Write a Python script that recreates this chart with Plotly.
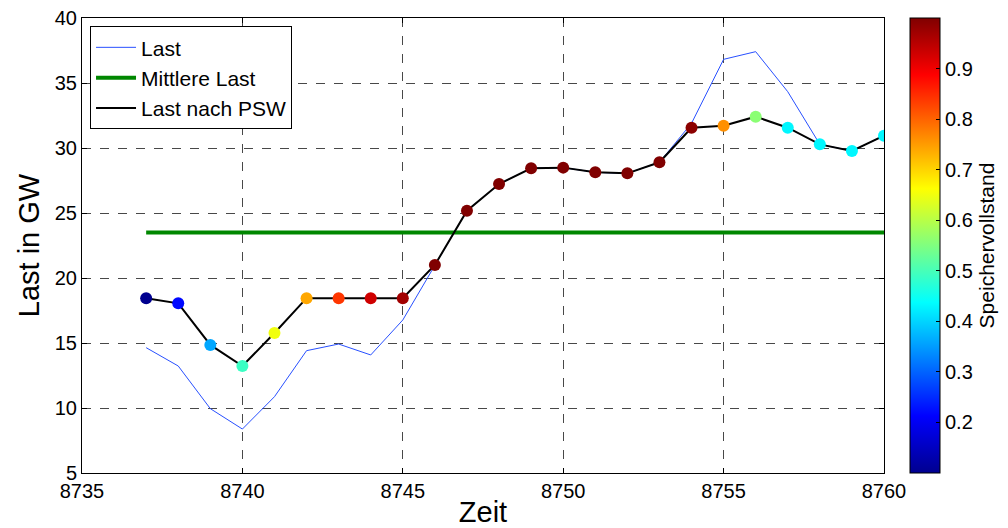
import plotly.graph_objects as go

# Stunden der Woche
zeit = list(range(8737, 8761))

# ursprüngliche Last in GW
last = [14.64, 13.23, 9.95, 8.38, 10.87, 14.41, 14.92, 14.08, 16.77, 21.0,
        25.18, 27.23, 28.44, 28.49, 28.13, 28.05, 28.9, 31.9, 36.82, 37.41,
        34.33, 30.28, 29.77, 30.95]

# Last nach Einsatz des Pumpspeicherwerks in GW
last_psw = [18.44, 18.05, 14.85, 13.23, 15.77, 18.45, 18.45, 18.45, 18.45, 21.0,
            25.18, 27.23, 28.44, 28.49, 28.13, 28.05, 28.9, 31.56, 31.72, 32.41,
            31.56, 30.28, 29.77, 30.95]

# Füllstand des Speichers (0..1)
speicher = [0.10, 0.22, 0.36, 0.49, 0.65, 0.74, 0.84, 0.93, 0.97, 1.0,
            1.0, 1.0, 1.0, 1.0, 1.0, 1.0, 1.0, 0.99, 0.76, 0.56,
            0.43, 0.43, 0.43, 0.43]

# mittlere Last in GW
mittlere_last = [23.5] * len(zeit)

x_ticks = [8735, 8740, 8745, 8750, 8755, 8760]
y_ticks = [5, 10, 15, 20, 25, 30, 35, 40]
cb_ticks = [0.2, 0.3, 0.4, 0.5, 0.6, 0.7, 0.8, 0.9]

jet = [
    [0.0, "rgb(0,0,143)"],
    [0.125, "rgb(0,0,255)"],
    [0.375, "rgb(0,255,255)"],
    [0.625, "rgb(255,255,0)"],
    [0.875, "rgb(255,0,0)"],
    [1.0, "rgb(128,0,0)"],
]

font = "Liberation Sans, Arial, sans-serif"

fig = go.Figure()

fig.add_trace(go.Scatter(
    x=zeit, y=last, mode="lines", name="Last",
    line=dict(color="rgb(40,80,255)", width=1),
))
fig.add_trace(go.Scatter(
    x=zeit, y=mittlere_last, mode="lines", name="Mittlere Last",
    line=dict(color="rgb(0,135,0)", width=4),
))
fig.add_trace(go.Scatter(
    x=zeit, y=last_psw, mode="lines", name="Last nach PSW",
    line=dict(color="black", width=2),
))
fig.add_trace(go.Scatter(
    x=zeit, y=last_psw, mode="markers", showlegend=False,
    marker=dict(
        size=12, color=speicher, colorscale=jet, cmin=0.1, cmax=1.0,
        line=dict(width=0),
        colorbar=dict(
            x=1.0324, xanchor="left", xref="paper",
            y=0.5, yanchor="middle", len=1.0, lenmode="fraction",
            xpad=0, ypad=0,
            thickness=30, outlinewidth=1, outlinecolor="black",
            tickvals=cb_ticks, ticks="inside", ticklen=4, tickcolor="black",
            tickfont=dict(family=font, size=20, color="black"),
            title=dict(text="Speichervollstand", side="right",
                       font=dict(family=font, size=21, color="black")),
        ),
    ),
))

axis_common = dict(
    showline=True, linecolor="black", linewidth=1, mirror="ticks",
    ticks="inside", ticklen=5, tickcolor="black",
    showgrid=True, gridcolor="rgba(40,40,40,0.85)", gridwidth=1, griddash="dash",
    zeroline=False,
    tickfont=dict(family=font, size=20, color="black"),
)

fig.update_xaxes(
    range=[8735, 8760], tickvals=x_ticks,
    title=dict(text="Zeit", font=dict(family=font, size=29, color="black"), standoff=0),
    **axis_common,
)
fig.update_yaxes(
    range=[5, 40], tickvals=y_ticks,
    title=dict(text="Last in GW", font=dict(family=font, size=29, color="black"), standoff=6),
    **axis_common,
)

fig.update_layout(
    width=1008, height=528,
    margin=dict(l=82, r=124, t=18, b=55, autoexpand=False),
    paper_bgcolor="white", plot_bgcolor="white",
    font=dict(family=font, color="black"),
    legend=dict(
        x=0.01, y=0.982, xanchor="left", yanchor="top",
        bgcolor="white", bordercolor="black", borderwidth=1,
        font=dict(family=font, size=21, color="black"),
        tracegroupgap=0, itemwidth=40,
    ),
)

fig.write_html("out.html")
